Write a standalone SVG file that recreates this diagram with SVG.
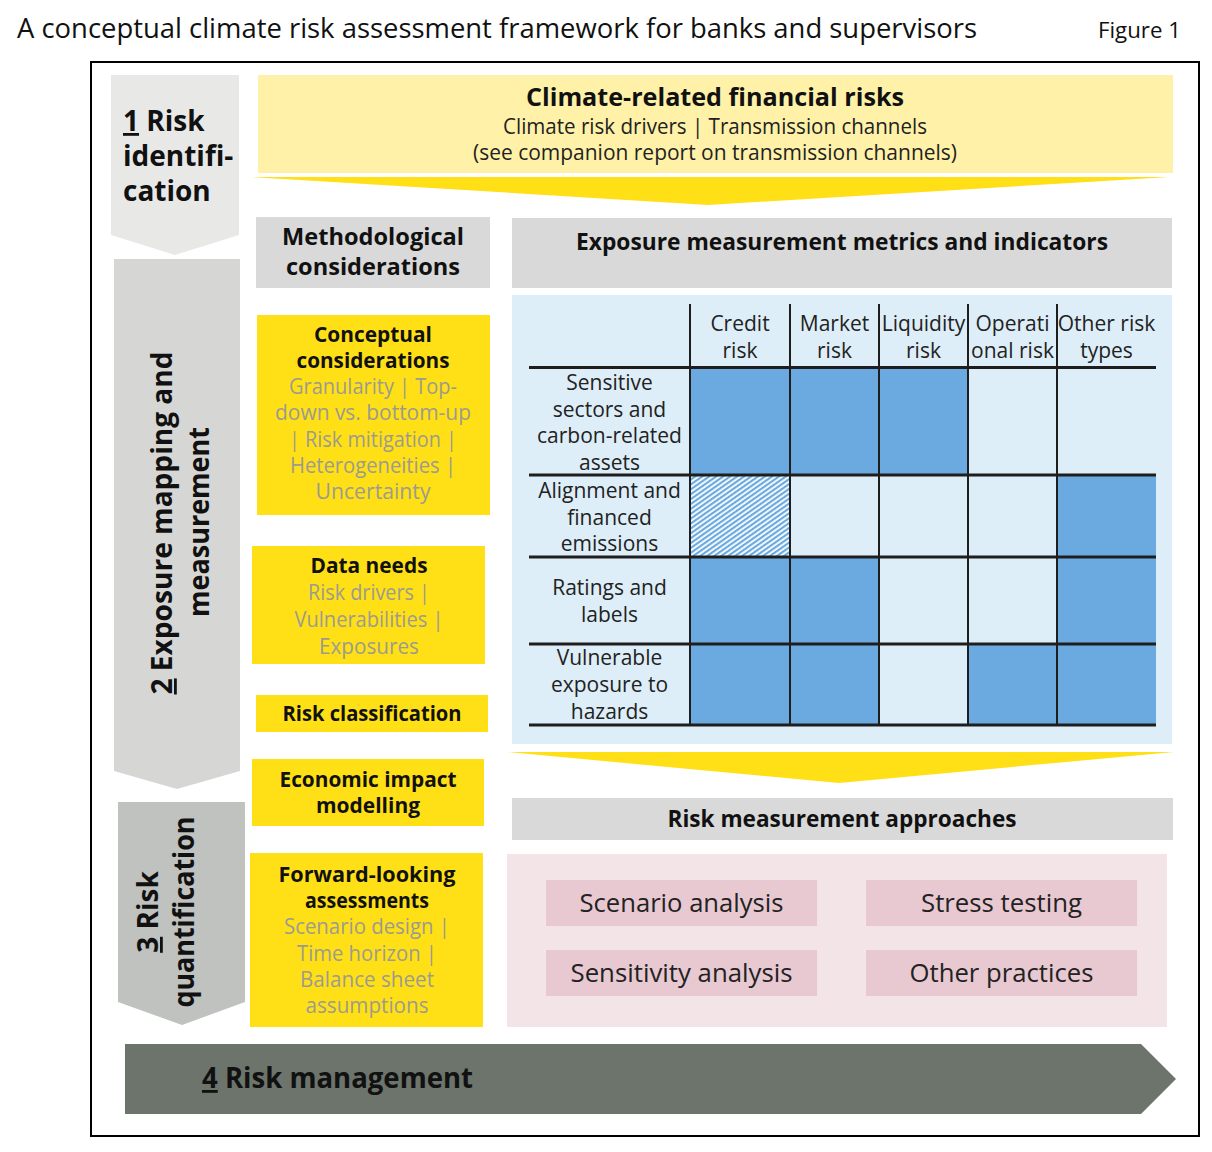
<svg xmlns="http://www.w3.org/2000/svg" width="1212" height="1152" viewBox="0 0 1212 1152">
<style>
text{font-family:"Open Sans","Noto Sans","DejaVu Sans",sans-serif;}
.title{font-size:28px;fill:#111;}
.fig{font-size:22px;fill:#111;}
.stage{font-size:28px;font-weight:700;fill:#111;}
.hb{font-size:23px;font-weight:700;fill:#111;text-anchor:middle;}
.yb{font-size:21px;font-weight:700;fill:#111;text-anchor:middle;}
.gr{font-size:21px;fill:#9c9b90;text-anchor:middle;}
.tb{font-size:21px;fill:#222;text-anchor:middle;}
.pk{font-size:26px;fill:#222;text-anchor:middle;}
.yel{fill:#ffe016;}
.gbox{fill:#d9d9d9;}
.pbox{fill:#e8c9d1;}
.blue{fill:#6aaae0;}
.hl{stroke:#1e1e1e;stroke-width:3;}
.vl{stroke:#1e1e1e;stroke-width:2;}
</style>
<defs>
<pattern id="hatch" width="4" height="4" patternUnits="userSpaceOnUse" patternTransform="rotate(55)">
<rect width="4" height="4" fill="#ffffff"/>
<rect width="2.2" height="4" fill="#6aaae0"/>
</pattern>
</defs>
<rect width="1212" height="1152" fill="#ffffff"/>
<text class="title" x="17" y="38" textLength="960" lengthAdjust="spacingAndGlyphs">A conceptual climate risk assessment framework for banks and supervisors</text>
<text class="fig" x="1098" y="38" textLength="83" lengthAdjust="spacingAndGlyphs">Figure 1</text>
<rect x="91" y="62" width="1108" height="1074" fill="none" stroke="#000" stroke-width="2"/>

<g id="stage1">
<polygon points="111,75 239,75 239,235 175,255 111,235" fill="#e8e9e7"/>
<text class="stage" x="123" y="131"><tspan text-decoration="underline">1</tspan> Risk</text>
<text class="stage" x="123" y="166">identifi-</text>
<text class="stage" x="123" y="201">cation</text>
</g>
<g id="stage2">
<polygon points="114,259 240,259 240,771 177,789 114,771" fill="#d6d7d5"/>
<text class="stage" transform="translate(172,523) rotate(-90)" text-anchor="middle" textLength="343" lengthAdjust="spacingAndGlyphs"><tspan text-decoration="underline">2</tspan> Exposure mapping and</text>
<text class="stage" transform="translate(209,522) rotate(-90)" text-anchor="middle" textLength="190" lengthAdjust="spacingAndGlyphs">measurement</text>
</g>
<g id="stage3">
<polygon points="118,802 245,802 245,1002 182,1025 118,1002" fill="#bfc2bf"/>
<text class="stage" transform="translate(158,912) rotate(-90)" text-anchor="middle"><tspan text-decoration="underline">3</tspan> Risk</text>
<text class="stage" transform="translate(194,912) rotate(-90)" text-anchor="middle" textLength="191" lengthAdjust="spacingAndGlyphs">quantification</text>
</g>
<g id="stage4">
<polygon points="125,1044 1141,1044 1176,1079 1141,1114 125,1114" fill="#6c746c"/>
<text class="stage" x="202" y="1088" fill="#151515" textLength="271" lengthAdjust="spacingAndGlyphs"><tspan text-decoration="underline">4</tspan> Risk management</text>
</g>

<g id="climate-risks">
<rect x="258" y="75" width="915" height="98" fill="#fff2a8"/>
<text x="715" y="106" text-anchor="middle" font-size="25" font-weight="700" fill="#111" textLength="378" lengthAdjust="spacingAndGlyphs">Climate-related financial risks</text>
<text x="715" y="134" class="tb" textLength="424" lengthAdjust="spacingAndGlyphs">Climate risk drivers | Transmission channels</text>
<text x="715" y="160" class="tb" textLength="484" lengthAdjust="spacingAndGlyphs">(see companion report on transmission channels)</text>
</g>

<g id="connectors">
<polygon points="251,177 1170,177 708,205" class="yel"/>
<polygon points="507,752 1174,752 839,783" class="yel"/>
</g>

<g id="methodological">
<rect x="256" y="217" width="234" height="71" class="gbox"/>
<text x="373" y="245" class="hb" font-size="21" textLength="182" lengthAdjust="spacingAndGlyphs">Methodological</text>
<text x="373" y="275" class="hb" font-size="21" textLength="174" lengthAdjust="spacingAndGlyphs">considerations</text>
</g>
<g id="exposure-metrics">
<rect x="512" y="218" width="660" height="70" class="gbox"/>
<text x="842" y="250" class="hb" textLength="532" lengthAdjust="spacingAndGlyphs">Exposure measurement metrics and indicators</text>
</g>

<g id="conceptual">
<rect x="257" y="315" width="233" height="200" class="yel"/>
<text x="373" y="342" class="yb" textLength="118" lengthAdjust="spacingAndGlyphs">Conceptual</text>
<text x="373" y="368" class="yb" textLength="153" lengthAdjust="spacingAndGlyphs">considerations</text>
<text x="373" y="394" class="gr" textLength="168" lengthAdjust="spacingAndGlyphs">Granularity | Top-</text>
<text x="373" y="420" class="gr" textLength="196" lengthAdjust="spacingAndGlyphs">down vs. bottom-up</text>
<text x="373" y="447" class="gr" textLength="168" lengthAdjust="spacingAndGlyphs">| Risk mitigation |</text>
<text x="373" y="473" class="gr" textLength="166" lengthAdjust="spacingAndGlyphs">Heterogeneities |</text>
<text x="373" y="499" class="gr" textLength="115" lengthAdjust="spacingAndGlyphs">Uncertainty</text>
</g>
<g id="data-needs">
<rect x="252" y="546" width="233" height="118" class="yel"/>
<text x="369" y="573" class="yb" textLength="117" lengthAdjust="spacingAndGlyphs">Data needs</text>
<text x="369" y="600" class="gr" textLength="122" lengthAdjust="spacingAndGlyphs">Risk drivers |</text>
<text x="369" y="627" class="gr" textLength="149" lengthAdjust="spacingAndGlyphs">Vulnerabilities |</text>
<text x="369" y="654" class="gr" textLength="100" lengthAdjust="spacingAndGlyphs">Exposures</text>
</g>
<g id="risk-classification">
<rect x="256" y="695" width="232" height="37" class="yel"/>
<text x="372" y="721" class="yb" textLength="179" lengthAdjust="spacingAndGlyphs">Risk classification</text>
</g>
<g id="economic-impact">
<rect x="252" y="759" width="232" height="67" class="yel"/>
<text x="368" y="787" class="yb" textLength="177" lengthAdjust="spacingAndGlyphs">Economic impact</text>
<text x="368" y="813" class="yb" textLength="104" lengthAdjust="spacingAndGlyphs">modelling</text>
</g>
<g id="forward-looking">
<rect x="250" y="853" width="233" height="174" class="yel"/>
<text x="367" y="882" class="yb" textLength="177" lengthAdjust="spacingAndGlyphs">Forward-looking</text>
<text x="367" y="908" class="yb" textLength="124" lengthAdjust="spacingAndGlyphs">assessments</text>
<text x="367" y="934" class="gr" textLength="166" lengthAdjust="spacingAndGlyphs">Scenario design |</text>
<text x="367" y="961" class="gr" textLength="140" lengthAdjust="spacingAndGlyphs">Time horizon |</text>
<text x="367" y="987" class="gr" textLength="134" lengthAdjust="spacingAndGlyphs">Balance sheet</text>
<text x="367" y="1013" class="gr" textLength="123" lengthAdjust="spacingAndGlyphs">assumptions</text>
</g>

<g id="exposure-table">
<rect x="512" y="295" width="660" height="449" fill="#deeef8"/>
<rect x="690" y="367" width="278" height="108" class="blue"/>
<rect x="690" y="475" width="100" height="82" fill="url(#hatch)"/>
<rect x="1057" y="475" width="99" height="250" class="blue"/>
<rect x="690" y="557" width="189" height="168" class="blue"/>
<rect x="968" y="644" width="89" height="81" class="blue"/>
<text x="740" y="331" class="tb">Credit</text>
<text x="740" y="358" class="tb">risk</text>
<text x="834.5" y="331" class="tb">Market</text>
<text x="834.5" y="358" class="tb">risk</text>
<text x="923.5" y="331" class="tb">Liquidity</text>
<text x="923.5" y="358" class="tb">risk</text>
<text x="1012.5" y="331" class="tb">Operati</text>
<text x="1012.5" y="358" class="tb">onal risk</text>
<text x="1106.5" y="331" class="tb">Other risk</text>
<text x="1106.5" y="358" class="tb">types</text>
<text x="609.5" y="390" class="tb">Sensitive</text>
<text x="609.5" y="417" class="tb">sectors and</text>
<text x="609.5" y="443" class="tb">carbon-related</text>
<text x="609.5" y="470" class="tb">assets</text>
<text x="609.5" y="498" class="tb">Alignment and</text>
<text x="609.5" y="525" class="tb">financed</text>
<text x="609.5" y="551" class="tb">emissions</text>
<text x="609.5" y="595" class="tb">Ratings and</text>
<text x="609.5" y="622" class="tb">labels</text>
<text x="609.5" y="665" class="tb">Vulnerable</text>
<text x="609.5" y="692" class="tb">exposure to</text>
<text x="609.5" y="719" class="tb">hazards</text>
<line x1="529" y1="367.5" x2="1156" y2="367.5" class="hl"/>
<line x1="529" y1="475" x2="1156" y2="475" class="hl"/>
<line x1="529" y1="557" x2="1156" y2="557" class="hl"/>
<line x1="529" y1="644" x2="1156" y2="644" class="hl"/>
<line x1="529" y1="725" x2="1156" y2="725" class="hl"/>
<line x1="690" y1="304" x2="690" y2="726" class="vl"/>
<line x1="790" y1="304" x2="790" y2="726" class="vl"/>
<line x1="879" y1="304" x2="879" y2="726" class="vl"/>
<line x1="968" y1="304" x2="968" y2="726" class="vl"/>
<line x1="1057" y1="304" x2="1057" y2="726" class="vl"/>
</g>

<g id="risk-measurement">
<rect x="512" y="798" width="661" height="42" class="gbox"/>
<text x="842" y="827" class="hb" textLength="349" lengthAdjust="spacingAndGlyphs">Risk measurement approaches</text>
</g>
<g id="approaches">
<rect x="507" y="854" width="660" height="173" fill="#f2e4e7"/>
</g>
<g id="scenario-analysis">
<rect x="546" y="880" width="271" height="46" class="pbox"/>
<text x="681.5" y="912" class="pk" textLength="204" lengthAdjust="spacingAndGlyphs">Scenario analysis</text>
</g>
<g id="stress-testing">
<rect x="866" y="880" width="271" height="46" class="pbox"/>
<text x="1001.5" y="912" class="pk" textLength="161" lengthAdjust="spacingAndGlyphs">Stress testing</text>
</g>
<g id="sensitivity-analysis">
<rect x="546" y="950" width="271" height="46" class="pbox"/>
<text x="681.5" y="982" class="pk" textLength="222" lengthAdjust="spacingAndGlyphs">Sensitivity analysis</text>
</g>
<g id="other-practices">
<rect x="866" y="950" width="271" height="46" class="pbox"/>
<text x="1001.5" y="982" class="pk" textLength="184" lengthAdjust="spacingAndGlyphs">Other practices</text>
</g>
</svg>
